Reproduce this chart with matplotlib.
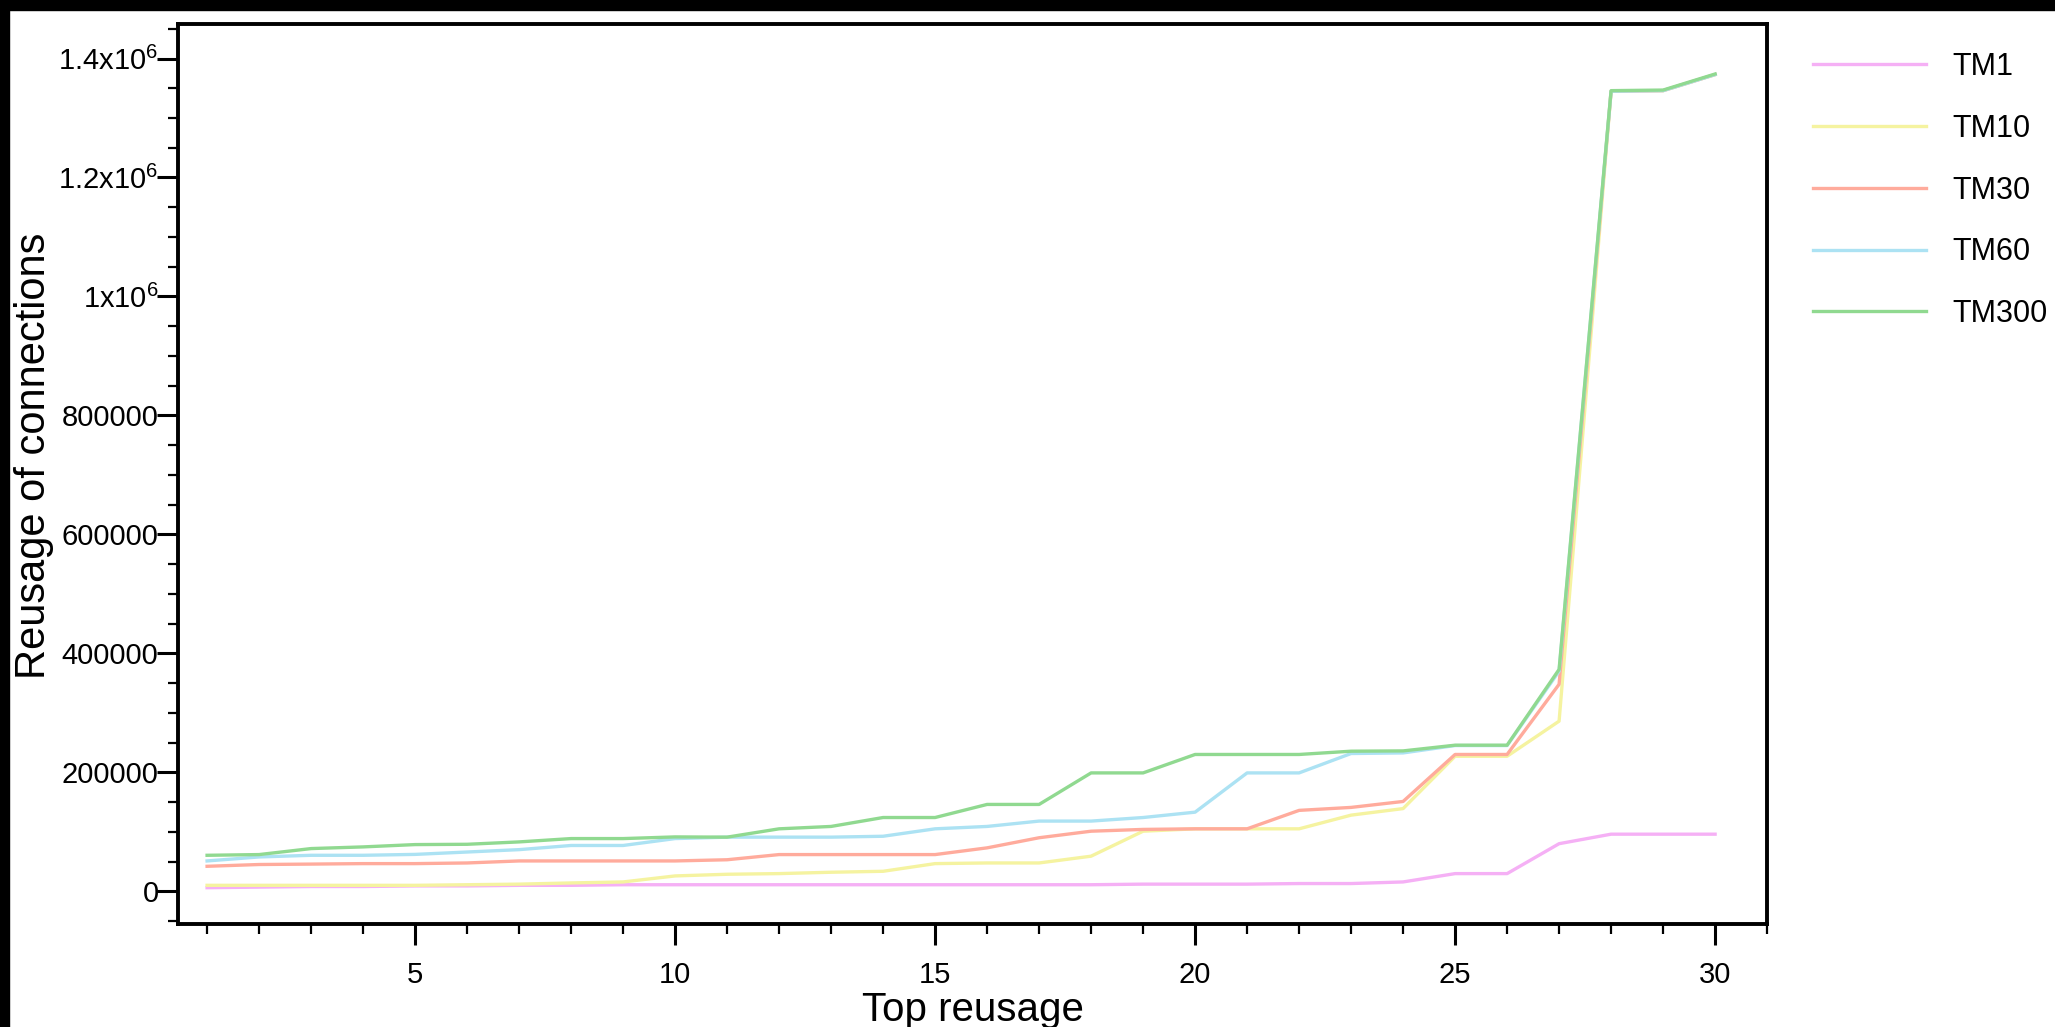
import matplotlib
matplotlib.use('Agg')
import matplotlib.pyplot as plt
from matplotlib.patches import Rectangle
from matplotlib.ticker import FixedLocator, MultipleLocator

plt.rcParams['font.family'] = ['Liberation Sans', 'DejaVu Sans']
plt.rcParams['mathtext.default'] = 'regular'

# data
top_reusage = list(range(1, 31))
tm1 = [6000, 7000, 8000, 8000, 9000, 9000, 10000, 10000, 11000, 11000,
       11000, 11000, 11000, 11000, 11000, 11000, 11000, 11000, 12000, 12000,
       12000, 13000, 13000, 15700, 29700, 29700, 80000, 96000, 96000, 96000]
tm10 = [10000, 10000, 10000, 10000, 10000, 11000, 12000, 14000, 15700, 25800,
        28600, 29700, 32000, 33600, 46500, 47600, 47600, 59000, 101000, 105000,
        105000, 105000, 128000, 139000, 227000, 227000, 286000, 1345000, 1346000, 1373000]
tm30 = [42000, 45000, 45700, 46500, 46500, 47600, 51000, 51000, 51000, 51000,
        53000, 61700, 61700, 61700, 61700, 73000, 90000, 101000, 104000, 105000,
        105000, 136000, 141000, 151000, 230000, 230000, 348000, 1345000, 1346000, 1373000]
tm60 = [51000, 57700, 60500, 60500, 62000, 66000, 70000, 77000, 77000, 88600,
        91000, 91000, 91000, 92500, 105000, 109000, 118000, 118000, 124000, 133000,
        199000, 199000, 231600, 232600, 245000, 245000, 370000, 1345000, 1346000, 1373000]
tm300 = [60500, 61700, 71800, 74600, 78500, 79000, 83000, 88600, 88600, 91400,
         91000, 105000, 109000, 124000, 124000, 146000, 146000, 199000, 199000, 230000,
         230000, 230000, 235500, 236000, 245600, 245600, 373000, 1346000, 1347000, 1374000]

series = [tm1, tm10, tm30, tm60, tm300]
labels = ['TM1', 'TM10', 'TM30', 'TM60', 'TM300']
colors = ['#f5b0f5', '#f5f3a0', '#ffab9c', '#ace2f3', '#90d990']

ytick_values = [0, 200000, 400000, 600000, 800000, 1000000, 1200000, 1400000]
ytick_labels = ['0', '200000', '400000', '600000', '800000',
                '1x10$^6$', '1.2x10$^6$', '1.4x10$^6$']
xtick_values = [5, 10, 15, 20, 25, 30]

fig = plt.figure(figsize=(20.55, 10.27), dpi=100)
ax = fig.add_axes([0.0866, 0.1003, 0.7733, 0.8763])

for vals, lab, col in zip(series, labels, colors):
    ax.plot(top_reusage, vals, color=col, lw=2.4, label=lab)

ax.set_xlim(0.44, 31.0)
ax.set_ylim(-55000, 1458000)

ax.xaxis.set_major_locator(FixedLocator(xtick_values))
ax.xaxis.set_minor_locator(MultipleLocator(1))
ax.yaxis.set_major_locator(FixedLocator(ytick_values))
ax.set_yticklabels(ytick_labels)
ax.yaxis.set_minor_locator(MultipleLocator(50000))

ax.tick_params(which='major', length=15, width=2.2, labelsize=21, direction='out')
ax.tick_params(which='minor', length=7, width=1.6, direction='out')
ax.tick_params(axis='y', which='major', pad=-1)
ax.tick_params(axis='x', which='major', pad=12)

for sp in ax.spines.values():
    sp.set_linewidth(2.8)

ax.set_xlabel('Top reusage', fontsize=29, labelpad=1)
ax.set_ylabel('Reusage of connections', fontsize=30)
ax.yaxis.set_label_coords(-0.078, 0.52)

ax.legend(loc='upper left', bbox_to_anchor=(1813 / 2055, 1 - 52 / 1027),
          bbox_transform=fig.transFigure, frameon=False, fontsize=22,
          handlelength=3.7, handletextpad=0.85, labelspacing=1.04,
          borderpad=0, borderaxespad=0)

# dark border strips of the screenshot
fig.patches.append(Rectangle((0, 1 - 10 / 1027), 1, 10 / 1027, transform=fig.transFigure,
                             color='black', zorder=10))
fig.patches.append(Rectangle((0, 0), 9 / 2055, 1, transform=fig.transFigure,
                             color='black', zorder=10))

fig.savefig('out.png', dpi=100)
